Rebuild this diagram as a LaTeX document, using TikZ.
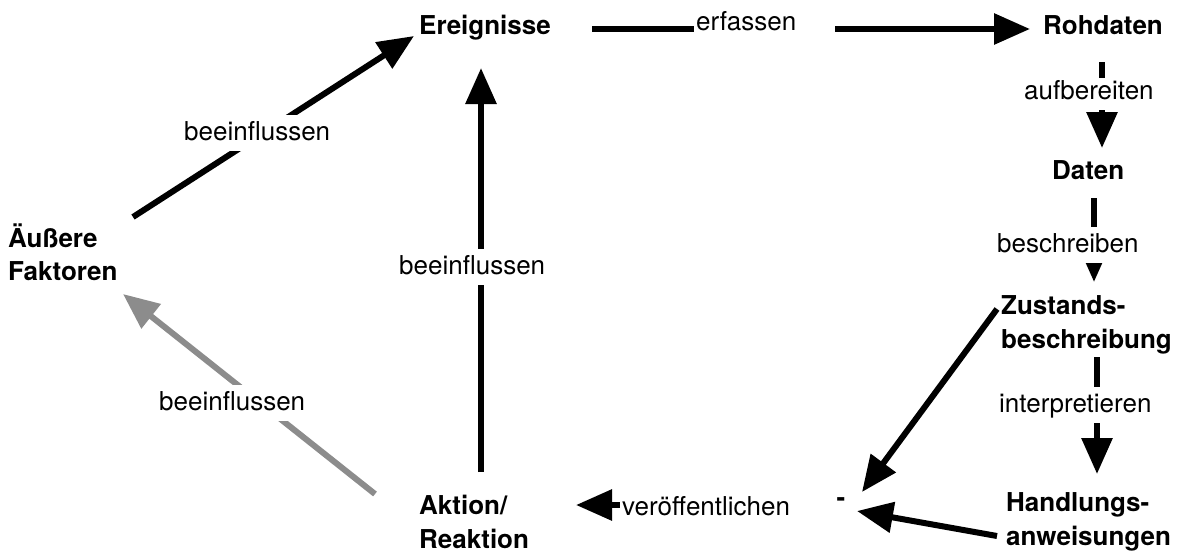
\documentclass[tikz,border=0pt]{standalone}
\usepackage{fontspec}
\setmainfont{TeX Gyre Heros}
\usetikzlibrary{arrows.meta}
\begin{document}
\begin{tikzpicture}[x=1pt,y=-1pt,
  term/.style={inner sep=0pt, anchor=north west, align=left,
    font=\fontsize{26}{33.5}\selectfont\bfseries},
  lab/.style={fill=white, inner xsep=2pt, inner ysep=2pt, text height=23pt,
    text depth=9pt, anchor=base west, font=\fontsize{26}{33.5}\selectfont},
  arr/.style={line width=6pt, -{Triangle[length=36pt,width=30pt]}},
  greyarr/.style={arr, draw=black!45, fill=black!45}
]
\useasboundingbox (0,0) rectangle (1180,557);

% terms of the cycle
\node[term] (ausser) at (8,223.2)    {\strut Äußere\\Faktoren};
\node[term] (ereig)  at (419,11.2)   {\strut Ereignisse};
\node[term] (roh)    at (1043,11.2)  {\strut Rohdaten};
\node[term] (daten)  at (1052,156.2) {\strut Daten};
\node[term] (zust)   at (1001,291.2) {\strut Zustands-\\beschreibung};
\node[term] (handl)  at (1006,488.2) {\strut Handlungs-\\anweisungen};
\node[term] (aktion) at (419,491.2)  {\strut Aktion/\\Reaktion};
\node[inner sep=0pt, font=\fontsize{26}{33.5}\selectfont\bfseries] (dash) at (841,502) {-};

% connectors
\draw[arr] ([shift={(125,-6.2)}]ausser.north west) -- ([shift={(-5,24.8)}]ereig.north west);
\draw[arr] ([shift={(62,-19.2)}]aktion.north west) -- ([shift={(62,56.8)}]ereig.north west);
\draw[greyarr] ([shift={(-44,2.8)}]aktion.north west) -- ([shift={(115,70.8)}]ausser.north west);
\draw[arr] ([shift={(173,17.8)}]ereig.north west) -- ([shift={(-13,17.8)}]roh.north west);
\draw[arr] ([shift={(59,50.8)}]roh.north west) -- ([shift={(50,-8.2)}]daten.north west);
\draw[arr] ([shift={(42,41.8)}]daten.north west) -- ([shift={(93,-9.2)}]zust.north west);
\draw[arr] ([shift={(96,65.8)}]zust.north west) -- ([shift={(91,-14.2)}]handl.north west);
\draw[arr] ([shift={(-4,17.8)}]zust.north west) -- ([shift={(21,-10)}]dash.center);
\draw[arr] ([shift={(-9,47.8)}]handl.north west) -- ([shift={(16,9)}]dash.center);
\draw[arr] ([shift={(-2,3)}]dash.west) -- ([shift={(157,13.8)}]aktion.north west);

% connector labels
\node[lab] (l1) at (182,140) {beeinflussen};
\node[lab] (l2) at (397,274) {beeinflussen};
\node[lab] (l3) at (157,410) {beeinflussen};
\node[lab, text width=137pt, align=left] (l4) at (694,30) {erfassen};
\node[lab, text height=19pt] (l5) at (1022,99) {aufbereiten};
\node[lab] (l6) at (995,252) {beschreiben};
\node[lab] (l7) at (997,412) {interpretieren};
\node[lab, text width=212pt, align=left] (l8) at (620,515) {veröffentlichen};
\end{tikzpicture}
\end{document}
